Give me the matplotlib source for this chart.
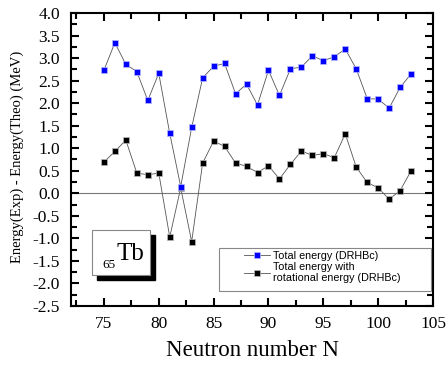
import numpy as np
import matplotlib.pyplot as plt
from matplotlib.ticker import MultipleLocator
from matplotlib.patches import Rectangle

# neutron numbers and energy differences (MeV)
neutron = list(range(75, 104))
total_energy = [2.73, 3.34, 2.86, 2.70, 2.06, 2.66, 1.33, 0.15, 1.46, 2.56,
                2.82, 2.88, 2.21, 2.42, 1.96, 2.73, 2.17, 2.76, 2.80, 3.05,
                2.94, 3.03, 3.20, 2.76, 2.10, 2.09, 1.89, 2.35, 2.65]
total_rot = [0.69, 0.93, 1.18, 0.45, 0.41, 0.45, -0.97, 0.12, -1.07, 0.67,
             1.16, 1.04, 0.67, 0.60, 0.46, 0.61, 0.32, 0.64, 0.94, 0.84,
             0.88, 0.79, 1.32, 0.58, 0.24, 0.12, -0.13, 0.06, 0.50]

plt.rcParams['font.family'] = ['Liberation Serif', 'DejaVu Serif']

fig = plt.figure(figsize=(4.47, 3.67), dpi=100)
ax = fig.add_axes([0.1588, 0.1662, 0.81, 0.7984])

ax.axhline(0, color='#777777', lw=0.8, zorder=1)

ax.plot(neutron, total_rot, color='#555555', lw=0.6, marker='s', ms=5,
        mfc='black', mec='#bbbbbb', mew=0.5, label='Total energy with\nrotational energy (DRHBc)', zorder=3)
ax.plot(neutron, total_energy, color='#555555', lw=0.6, marker='s', ms=5,
        mfc='#0000ff', mec='#bbbbff', mew=0.5, label='Total energy (DRHBc)', zorder=4)

ax.set_xlim(72, 105)
ax.set_ylim(-2.5, 4.0)
ax.xaxis.set_major_locator(MultipleLocator(5))
ax.xaxis.set_minor_locator(MultipleLocator(2.5))
ax.yaxis.set_major_locator(MultipleLocator(0.5))
ax.yaxis.set_minor_locator(MultipleLocator(0.25))
ax.yaxis.set_major_formatter(plt.FormatStrFormatter('%.1f'))
ax.tick_params(which='both', direction='in', top=True, right=True, width=1.5, labelsize=12.5)
ax.tick_params(which='major', length=6)
ax.tick_params(which='minor', length=4)
ax.tick_params(axis='x', pad=7)
ax.tick_params(axis='y', pad=8)
for s in ax.spines.values():
    s.set_linewidth(1.5)

ax.set_xlabel('Neutron number N', fontsize=16.5, labelpad=6)
ax.set_ylabel('Energy(Exp) - Energy(Theo) (MeV)', fontsize=10.5)
ax.yaxis.set_label_coords(-0.13, 0.51)

# nucleus label box with shadow
shadow = Rectangle((0.072, 0.089), 0.160, 0.154, transform=ax.transAxes,
                   facecolor='black', edgecolor='black', zorder=5)
box = Rectangle((0.058, 0.106), 0.160, 0.154, transform=ax.transAxes,
                facecolor='white', edgecolor='#888888', lw=0.8, zorder=6)
ax.add_patch(shadow)
ax.add_patch(box)
ax.text(0.127, 0.157, 'Tb', transform=ax.transAxes, ha='left', va='baseline',
        fontsize=18, zorder=7)
ax.text(0.1225, 0.13, '65', transform=ax.transAxes, ha='right', va='baseline',
        fontsize=9.5, zorder=7)

# legend with a hand-drawn frame
frame = Rectangle((0.409, 0.051), 0.585, 0.147, transform=ax.transAxes,
                  facecolor='white', edgecolor='#888888', lw=0.8, zorder=6)
ax.add_patch(frame)
handles, labels = ax.get_legend_handles_labels()
leg = ax.legend(handles[::-1], labels[::-1], loc='upper left', bbox_to_anchor=(0.455, 0.217),
                prop={'family': 'Liberation Sans', 'size': 7.75}, frameon=False,
                handlelength=2.4, labelspacing=0.05, borderpad=0.3, handletextpad=0.3,
                markerscale=0.9)
leg.set_zorder(7)

fig.savefig('out.png', dpi=100)
